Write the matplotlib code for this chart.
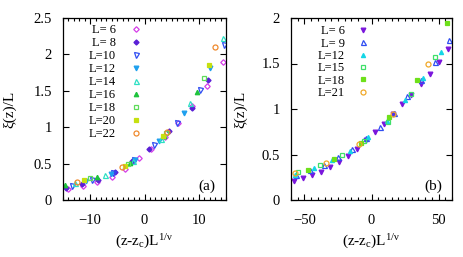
import matplotlib
matplotlib.use("Agg")
import matplotlib.pyplot as plt

plt.rcParams['font.family'] = ['Liberation Serif', 'DejaVu Serif']
plt.rcParams['mathtext.fontset'] = 'custom'
plt.rcParams['mathtext.rm'] = 'Liberation Serif'
plt.rcParams['mathtext.it'] = 'Liberation Serif:italic'

# ---------------- panel (a) data ----------------
a_labels = ["L= 6", "L= 8", "L=10", "L=12", "L=14", "L=16", "L=18", "L=20", "L=22"]
a_x6 = [-14.0, -11.3, -8.7, -6.0, -3.5, -1.1, 1.2, 3.7, 6.2, 8.8, 11.5, 14.4]
a_y6 = [0.15, 0.19, 0.25, 0.31, 0.42, 0.58, 0.70, 0.87, 1.06, 1.29, 1.57, 1.90]
a_x8 = [-14.4, -11.5, -8.5, -5.5, -2.3, 0.9, 4.6, 8.7, 11.7]
a_y8 = [0.17, 0.22, 0.28, 0.38, 0.53, 0.70, 0.95, 1.27, 1.65]
a_x10 = [-13.4, -9.6, -5.8, -2.0, 1.8, 6.0, 10.3, 14.7]
a_y10 = [0.19, 0.27, 0.37, 0.55, 0.75, 1.06, 1.51, 2.13]
a_x12 = [-10.7, -6.2, -1.8, 2.6, 7.3, 12.1]
a_y12 = [0.26, 0.36, 0.55, 0.81, 1.19, 1.81]
a_x14 = [-12.7, -7.3, -2.1, 3.1, 8.4, 14.5]
a_y14 = [0.23, 0.34, 0.53, 0.84, 1.33, 2.22]
a_x16 = [-14.6, -8.8, -2.7, 3.5, 9.7]
a_y16 = [0.21, 0.31, 0.51, 0.88, 1.49]
a_x18 = [-10.0, -3.0, 3.9, 10.9]
a_y18 = [0.30, 0.49, 0.92, 1.67]
a_x20 = [-11.2, -3.6, 3.4, 11.9]
a_y20 = [0.27, 0.47, 0.88, 1.86]
a_x22 = [-12.4, -4.2, 4.1, 13.0]
a_y22 = [0.25, 0.46, 0.93, 2.10]

# ---------------- panel (b) data ----------------
b_labels = ["L= 6", "L= 9", "L=12", "L=15", "L=18", "L=21"]
b_x6 = [-58.0, -51.2, -44.5, -37.7, -31.0, -24.2, -17.5, -10.7, -4.0, 2.8, 9.6, 16.3, 23.1, 29.8, 36.6, 43.3, 50.1, 56.8]
b_y6 = [0.21, 0.24, 0.27, 0.31, 0.36, 0.42, 0.48, 0.56, 0.66, 0.75, 0.84, 0.94, 1.05, 1.15, 1.27, 1.39, 1.52, 1.66]
b_x9 = [-56.4, -46.0, -35.6, -25.2, -14.8, -4.4, 6.0, 16.4, 26.8, 37.2, 47.6, 58.0]
b_y9 = [0.28, 0.33, 0.39, 0.47, 0.56, 0.68, 0.80, 0.96, 1.14, 1.32, 1.52, 1.76]
b_x12 = [-56.8, -43.2, -29.6, -16.0, -2.4, 11.2, 24.8, 38.4, 52.0]
b_y12 = [0.28, 0.35, 0.44, 0.54, 0.69, 0.87, 1.10, 1.34, 1.63]
b_x15 = [-54.5, -38.5, -22.0, -5.5, 12.0, 29.5, 47.0]
b_y15 = [0.31, 0.39, 0.49, 0.65, 0.86, 1.16, 1.57]
b_x18 = [-47.5, -28.3, -7.7, 13.2, 34.1, 56.6]
b_y18 = [0.33, 0.45, 0.63, 0.91, 1.32, 1.95]
b_x21 = [-57.1, -33.6, -9.1, 16.1, 42.0]
b_y21 = [0.30, 0.41, 0.61, 0.95, 1.50]

a_series = [
    (a_x6, a_y6, 'D', '#d53ee8', False, 2.8),
    (a_x8, a_y8, 'D', '#5a1fd6', True, 2.6),
    (a_x10, a_y10, 'v', '#2f4df2', False, 3.6),
    (a_x12, a_y12, 'v', '#1ea0ee', True, 3.4),
    (a_x14, a_y14, '^', '#2ee0c4', False, 3.6),
    (a_x16, a_y16, '^', '#1ec33c', True, 3.2),
    (a_x18, a_y18, 's', '#5fdc5a', False, 3.4),
    (a_x20, a_y20, 's', '#c6e010', True, 3.4),
    (a_x22, a_y22, 'o', '#ef8a2e', False, 3.6),
]
b_series = [
    (b_x6, b_y6, 'v', '#7a16dc', True, 3.4),
    (b_x9, b_y9, '^', '#2f4df2', False, 3.6),
    (b_x12, b_y12, '^', '#14d6e6', True, 3.0),
    (b_x15, b_y15, 's', '#3fe06a', False, 3.4),
    (b_x18, b_y18, 's', '#6ee01a', True, 3.4),
    (b_x21, b_y21, 'o', '#f0a828', False, 3.6),
]

fig = plt.figure(figsize=(4.63, 2.57), dpi=100)
axa = fig.add_axes([63/463, 57/257, 163/463, 182/257])
axb = fig.add_axes([291/463, 57/257, 161/463, 182/257])


def draw(ax, series, labels):
    for (x, y, m, c, filled, ms), lab in zip(series, labels):
        ax.plot(x, y, linestyle='none', marker=m, markersize=ms,
                markerfacecolor=c if filled else 'none', markeredgecolor=c,
                markeredgewidth=0.9, label=lab)


draw(axa, a_series, a_labels)
draw(axb, b_series, b_labels)

axa.set_xlim(-15, 15)
axa.set_ylim(0, 2.5)
axa.set_xticks([-10, 0, 10])
axa.set_xticks(range(-15, 16), minor=True)
axa.set_yticks([0, 0.5, 1, 1.5, 2, 2.5])
axa.set_yticklabels(['0', '0.5', '1', '1.5', '2', '2.5'])

axb.set_xlim(-60, 60)
axb.set_ylim(0, 2)
axb.set_xticks([-50, 0, 50])
axb.set_xticks(range(-60, 61, 5), minor=True)
axb.set_yticks([0, 0.5, 1, 1.5, 2])
axb.set_yticklabels(['0', '0.5', '1', '1.5', '2'])

for ax, tag, lp in ((axa, '(a)', 12), (axb, '(b)', 10)):
    ax.tick_params(axis='both', which='both', direction='in', top=True, right=True,
                   labelsize=10.5, width=0.8)
    ax.tick_params(axis='both', which='major', length=4)
    ax.tick_params(axis='x', which='minor', length=2)
    ax.tick_params(axis='y', which='minor', left=False, right=False)
    ax.tick_params(axis='x', which='major', pad=10)
    ax.tick_params(axis='y', which='major', pad=8)
    for s in ax.spines.values():
        s.set_linewidth(0.9)
    ax.set_ylabel('ξ(z)/L', fontsize=11, labelpad=lp)
    ax.set_xlabel(r'(z-z$_{\mathrm{c}}$)L$^{\mathrm{1/ν}}$', fontsize=11, labelpad=4)
    ax.text(0.885, 0.075, tag, transform=ax.transAxes, ha='center', va='center', fontsize=11)

axa.legend(loc='upper left', bbox_to_anchor=(0.16, 0.965), frameon=False, markerfirst=False,
           numpoints=1, handlelength=1.0, handletextpad=1.1, labelspacing=0.08,
           borderpad=0, borderaxespad=0, fontsize=9)
axb.legend(loc='upper left', bbox_to_anchor=(0.165, 0.96), frameon=False, markerfirst=False,
           numpoints=1, handlelength=1.0, handletextpad=1.0, labelspacing=0.03,
           borderpad=0, borderaxespad=0, fontsize=9)

fig.savefig('out.png', dpi=100)
